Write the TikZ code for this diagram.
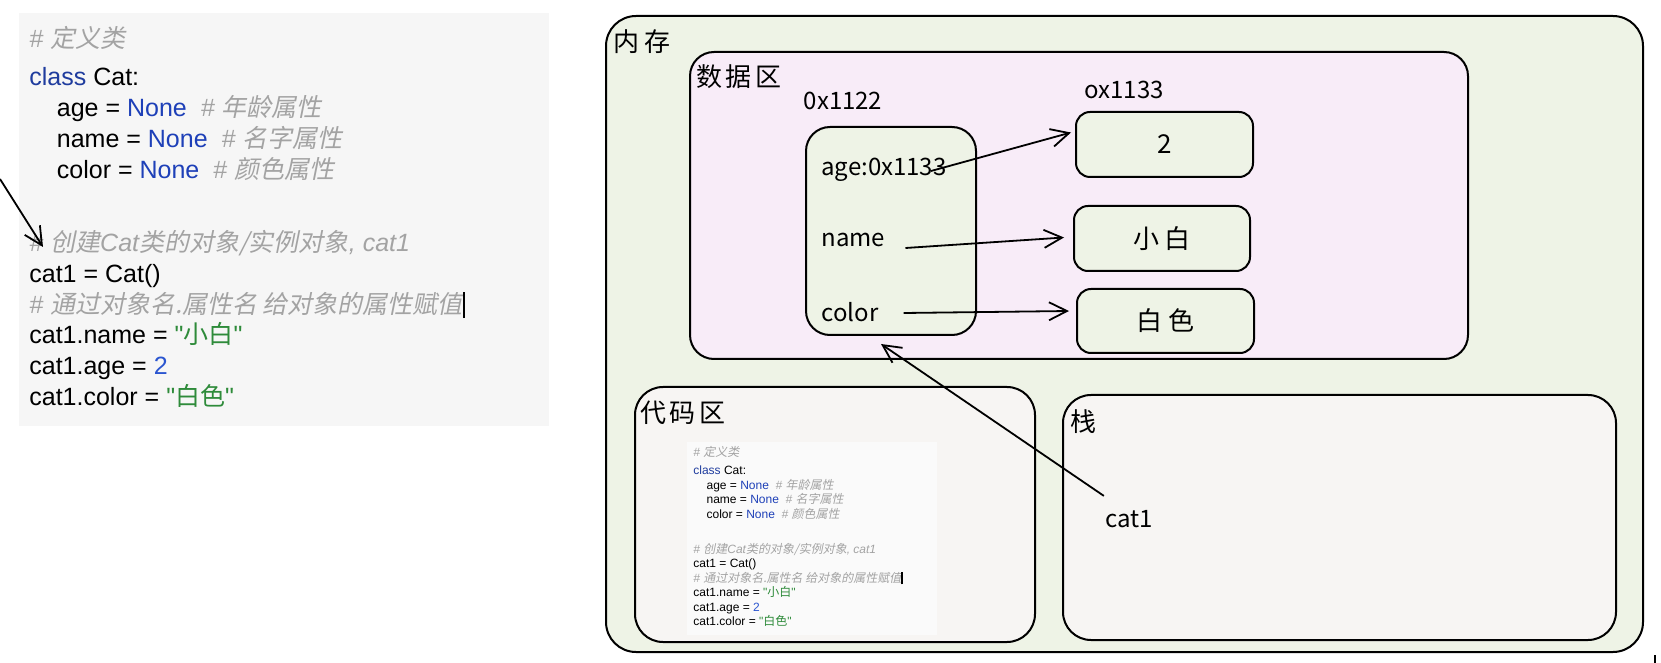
\documentclass[tikz,border=0pt]{standalone}
\usepackage{fontspec}
\setmainfont{Liberation Sans}[Ligatures=TeXOff]
\newfontfamily\cjk{Noto Sans CJK SC}
\newfontfamily\cjkit{Noto Sans CJK SC}[FakeSlant=0.2]
\newfontfamily\hand{Noto Sans CJK SC}
\usetikzlibrary{arrows.meta,calc}

\definecolor{cmtc}{HTML}{A3A3A3}
\definecolor{kwc}{HTML}{1F3C9E}
\definecolor{nonec}{HTML}{1E40B8}
\definecolor{numc}{HTML}{2A55D0}
\definecolor{strc}{HTML}{2E8B3A}
\definecolor{codebgc}{HTML}{F6F6F6}
\definecolor{smallbgc}{HTML}{FAFAFA}
\definecolor{memc}{HTML}{EEF3E6}
\definecolor{datac}{HTML}{F8ECF8}
\definecolor{regc}{HTML}{F7F5F3}

\newcommand\zh[1]{{\cjk #1}}
\newcommand\zhi[1]{{\cjkit #1}}
\newcommand\cm{\color{cmtc}\itshape}
\newcommand\curbar{\rule[-0.2em]{0.09em}{1.05em}}
\newcommand\codebody{%
{\cm\# \zhi{定义类}}\\[0.3em]
{\color{kwc}class} Cat:\\
\hspace*{1.1em}age = {\color{nonec}None}\ \ {\cm\# \zhi{年龄属性}}\\
\hspace*{1.1em}name = {\color{nonec}None}\ \ {\cm\# \zhi{名字属性}}\\
\hspace*{1.1em}color = {\color{nonec}None}\ \ {\cm\# \zhi{颜色属性}}\\[1.7em]
{\cm\# \zhi{创建}Cat\zhi{类的对象/实例对象}, cat1}\\
cat1 = Cat()\\
{\cm\# \zhi{通过对象名.属性名 给对象的属性赋值}}\curbar\\
cat1.name = {\color{strc}"\zh{小白}"}\\
cat1.age = {\color{numc}2}\\
cat1.color = {\color{strc}"\zh{白色}"}%
}

\tikzset{
  hb/.style={draw=black, line width=1pt},
  regionbox/.style={hb, rounded corners=14pt},
  valbox/.style={hb, fill=memc, rounded corners=7pt, minimum height=32.5pt, inner sep=0pt, font=\hand\fontsize{13}{15}\selectfont},
  lbl/.style={font=\hand\fontsize{13}{15}\selectfont, inner sep=0pt},
  txt/.style={font=\hand\fontsize{12}{14}\selectfont, inner sep=0pt},
  arr/.style={line width=0.9pt, -{Straight Barb[length=9pt,width=9pt]}},
  codebig/.style={anchor=north west, inner sep=0pt, align=left, font=\fontsize{12.5}{15.4}\selectfont},
  codesmall/.style={anchor=north west, inner sep=0pt, align=left, font=\fontsize{6}{7.25}\selectfont},
}

\begin{document}
\begin{tikzpicture}[x=0.5pt,y=-0.5pt]
\useasboundingbox (0,0) rectangle (1661,663);

% left code listing
\fill[codebgc] (19,13) rectangle (549,426);
\node[codebig] (code) at (29,26) {\codebody};
\coordinate (pstart) at (0,179);
\coordinate (pend) at (43,247);
\draw[arr] (pstart) -- (pend);

% memory
\draw[regionbox, fill=memc, rounded corners=15pt] (606,16) rectangle (1643,652);
\node[lbl] (lmem) at (642,42) {内\kern3pt存};

% data area
\draw[regionbox, fill=datac, rounded corners=12pt] (690,52) rectangle (1468,359);
\node[lbl] (ldata) at (739,77) {数\kern2pt据\kern2pt区};
\node[txt] (a1122) at (843,101) {0x1122};
\node[txt] (a1133) at (1124,90) {ox1133};

\node[hb, fill=memc, rounded corners=12pt, minimum width=85pt, minimum height=104pt] (obj) at (891,231) {};
\node[txt, anchor=west] (tage) at (821,170) {age:0x1133};
\node[txt, anchor=west] (tname) at (821,240) {name};
\node[txt, anchor=west] (tcolor) at (821,312) {color};

\node[valbox, minimum width=88.5pt] (v2) at (1164.5,144.5) {2};
\node[valbox, minimum width=88pt] (vname) at (1162,238.5) {小\kern3pt白};
\node[valbox, minimum width=88.5pt, minimum height=32pt] (vcolor) at (1165.5,321) {白\kern3pt色};

\draw[arr] ($(tage.east)+(-16,1)$) -- ($(v2.west)+(-4,-12)$);
\draw[arr] ($(tname.east)+(20,8)$) -- ($(vname.west)+(-9,-1)$);
\draw[arr] ($(tcolor.east)+(25,1)$) -- ($(vcolor.west)+(-7,-10)$);

% code area
\draw[regionbox, fill=regc] (635,387) rectangle (1035,642);
\node[lbl] (lcode) at (683,413) {代\kern2pt码\kern2pt区};
\fill[smallbgc] (687,442) rectangle (937,635);
\node[codesmall] (codesm) at (693,446) {\codebody};

% stack
\draw[regionbox, fill=regc] (1063,395) rectangle (1616,640);
\node[lbl] (lstack) at (1083,422) {栈};
\node[txt] (cat1) at (1129,519) {cat1};
\draw[arr] ($(cat1.north west)+(-1,-14)$) -- ($(obj.south)+(-10,8)$);

% small mark
\coordinate (tick1) at (1655,655);
\coordinate (tick2) at (1655,663);
\draw[line width=1.2pt] (tick1) -- (tick2);
\end{tikzpicture}
\end{document}
